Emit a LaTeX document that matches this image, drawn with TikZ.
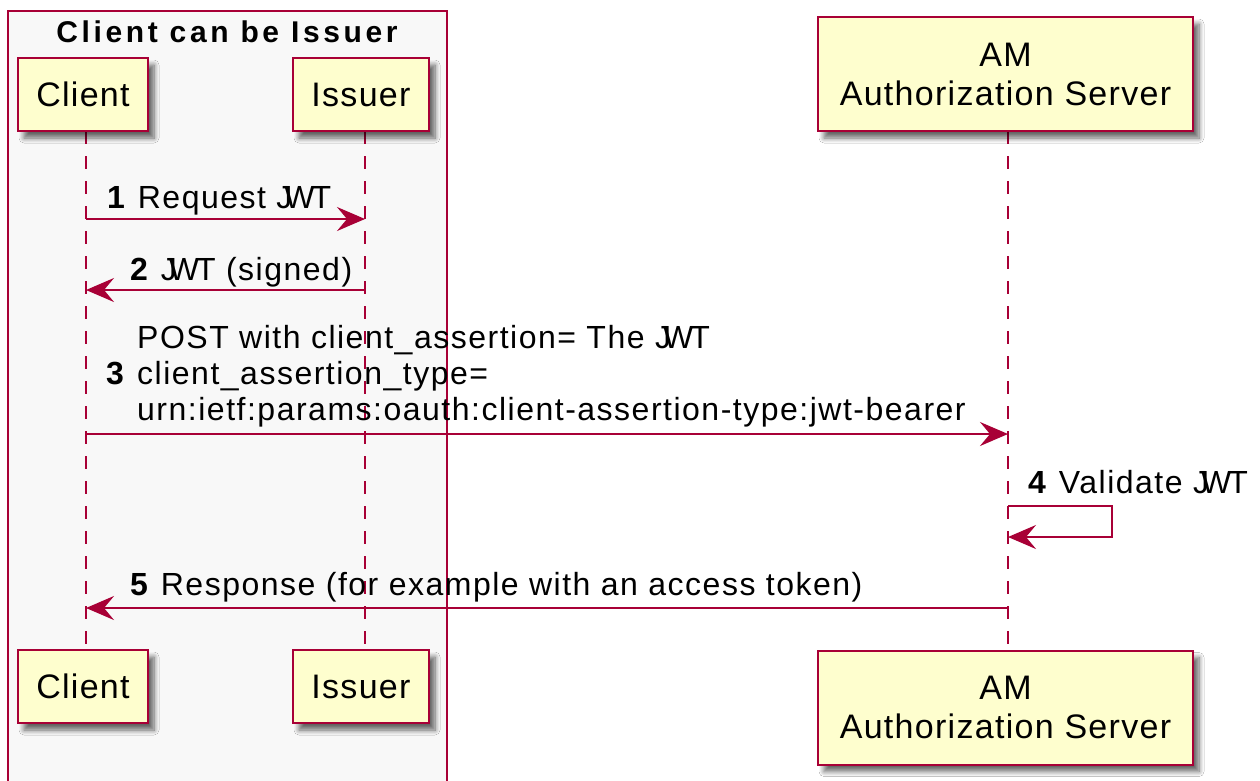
\documentclass[tikz,border=0pt]{standalone}
\usepackage{fontspec}
\setmainfont{Liberation Sans}
\newfontfamily\partfont[LetterSpace=3.8]{Liberation Sans}
\newfontfamily\msgfont[LetterSpace=4.7]{Liberation Sans}
\newfontfamily\grpfont[LetterSpace=12]{Liberation Sans}
\usetikzlibrary{arrows.meta,shadows.blur}
\definecolor{pumlred}{HTML}{A80036}
\definecolor{pumlfill}{HTML}{FEFECE}
\definecolor{grpfill}{HTML}{F8F8F8}
\newcommand\jwt{J\kern-8pt W\kern-3pt T}
\tikzset{
  partbox/.style={draw=pumlred, fill=pumlfill, line width=2pt, inner sep=0pt,
    align=center, font=\partfont\fontsize{34}{39}\selectfont,
    blur shadow={shadow xshift=6pt, shadow yshift=-7pt, shadow blur radius=5pt, shadow blur steps=8, shadow opacity=60}},
  lifeline/.style={draw=pumlred, line width=2.2pt, dash pattern=on 12.5pt off 12.5pt},
  msg/.style={draw=pumlred, line width=2.2pt, -{Stealth[length=28pt, width=24pt, inset=10pt]}},
  msglabel/.style={anchor=base west, inner sep=0pt, font=\msgfont\fontsize{32}{36}\selectfont},
}
\begin{document}
\begin{tikzpicture}[x=1pt, y=-1pt]
\useasboundingbox (0,0) rectangle (1260,780);
\fill[white] (0,0) rectangle (1260,780);
\clip (0,0) rectangle (1260,780);
% group
\draw[pumlred, fill=grpfill, line width=2pt] (8,11) rectangle (447,800);
\node[anchor=base, inner sep=0pt, font=\grpfont\bfseries\fontsize{30}{36}\selectfont] (gtitle) at (227,42) {Client can be Issuer};
% lifeline coordinates
\coordinate (clt) at (86,131);  \coordinate (clb) at (86,650);
\coordinate (ist) at (365,131); \coordinate (isb) at (365,650);
\coordinate (amt) at (1008,131); \coordinate (amb) at (1008,650);
\draw[lifeline] (clt) -- (clb);
\draw[lifeline] (ist) -- (isb);
\draw[lifeline] (amt) -- (amb);
% participants
\node[partbox, minimum width=130pt, minimum height=73pt] (client) at (83,94.5) {Client};
\node[partbox, minimum width=136pt, minimum height=73pt] (issuer) at (361,94.5) {Issuer};
\node[partbox, minimum width=375pt, minimum height=114pt] (am) at (1005.5,74) {AM\\Authorization Server};
\node[partbox, minimum width=130pt, minimum height=73pt] (client2) at (83,686.5) {Client};
\node[partbox, minimum width=136pt, minimum height=73pt] (issuer2) at (361,686.5) {Issuer};
\node[partbox, minimum width=375pt, minimum height=114pt] (am2) at (1005.5,707.5) {AM\\Authorization Server};
% message 1
\coordinate (m1s) at (86,219); \coordinate (m1e) at (365,219);
\draw[msg] (m1s) -- (m1e);
\node[msglabel] (l1) at (107,208) {\textbf{1}\hspace{1pt} Request \jwt};
% message 2
\coordinate (m2s) at (365,290); \coordinate (m2e) at (86,290);
\draw[msg] (m2s) -- (m2e);
\node[msglabel] (l2) at (130,280) {\textbf{2}\hspace{1pt} \jwt\ (signed)};
% message 3
\coordinate (m3s) at (86,434); \coordinate (m3e) at (1008,434);
\draw[msg] (m3s) -- (m3e);
\node[msglabel] (l3n) at (106,384) {\textbf{3}};
\node[msglabel] (l3a) at (137,348) {POST with client\_assertion= The \jwt};
\node[msglabel] (l3b) at (137,384) {client\_assertion\_type=};
\node[msglabel] (l3c) at (137,420) {urn:ietf:params:oauth:client-assertion-type:jwt-bearer};
% message 4 (self)
\coordinate (m4s) at (1008,506); \coordinate (m4a) at (1112,506);
\coordinate (m4b) at (1112,537); \coordinate (m4e) at (1008,537);
\draw[msg] (m4s) -- (m4a) -- (m4b) -- (m4e);
\node[msglabel] (l4) at (1028,493) {\textbf{4}\hspace{1pt} Validate \jwt};
% message 5
\coordinate (m5s) at (1008,608); \coordinate (m5e) at (86,608);
\draw[msg] (m5s) -- (m5e);
\node[msglabel] (l5) at (130,595) {\textbf{5}\hspace{1pt} Response (for example with an access token)};
\end{tikzpicture}
\end{document}
